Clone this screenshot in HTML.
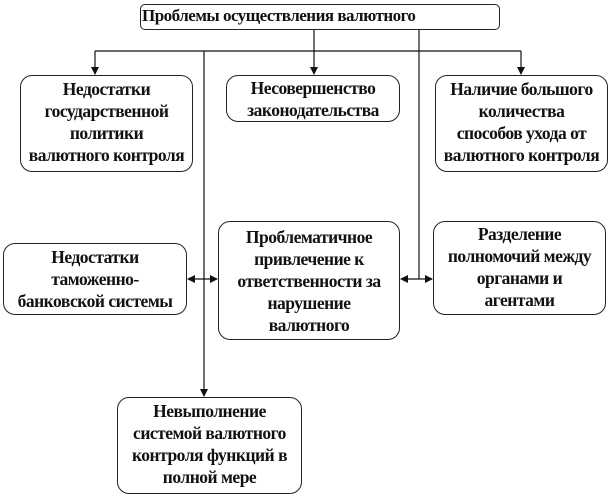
<!DOCTYPE html>
<html><head><meta charset="utf-8"><style>
body{margin:0;width:611px;height:498px;background:#fff;position:relative;overflow:hidden;font-family:"Liberation Serif",serif;}
.b{position:absolute;border:1.3px solid #222;border-radius:12px;box-sizing:border-box;text-align:center;font-weight:bold;font-size:17.5px;line-height:22px;color:#111;letter-spacing:-0.5px;white-space:nowrap;}
svg{position:absolute;left:0;top:0}
</style></head><body>
<svg width="611" height="498">
<defs><marker id="a" markerWidth="8" markerHeight="8" refX="7" refY="4" orient="auto" markerUnits="userSpaceOnUse"><path d="M0,0L8,4L0,8z" fill="#111"/></marker>
<marker id="s" markerWidth="8" markerHeight="8" refX="1" refY="4" orient="auto" markerUnits="userSpaceOnUse"><path d="M8,0L0,4L8,8z" fill="#111"/></marker></defs>
<g stroke="#111" stroke-width="1.2" fill="none">
<line x1="95" y1="51" x2="521" y2="51"/>
<line x1="314" y1="30" x2="314" y2="74" marker-end="url(#a)"/>
<line x1="95" y1="51" x2="95" y2="74" marker-end="url(#a)"/>
<line x1="521" y1="51" x2="521" y2="74" marker-end="url(#a)"/>
<line x1="204" y1="51" x2="204" y2="396" marker-end="url(#a)"/>
<line x1="419" y1="30" x2="419" y2="279"/>
<line x1="188" y1="279" x2="217" y2="279" marker-start="url(#s)" marker-end="url(#a)"/>
<line x1="401" y1="279" x2="432" y2="279" marker-start="url(#s)" marker-end="url(#a)"/>
</g></svg>
<div class="b" style="left:140px;top:4px;width:360px;height:26px;border-radius:5px;text-align:left;font-size:17px;line-height:22px;padding-left:1px">Проблемы осуществления валютного</div>
<div class="b" style="left:20px;top:75px;width:173px;height:97px;padding-top:2px">Недостатки<br>государственной<br>политики<br>валютного контроля</div>
<div class="b" style="left:226px;top:75px;width:174px;height:47px;padding-top:1px">Несовершенство<br>законодательства</div>
<div class="b" style="left:435px;top:75px;width:173px;height:97px;padding-top:2px">Наличие большого<br>количества<br>способов ухода от<br>валютного контроля</div>
<div class="b" style="left:3px;top:243px;width:184px;height:72px;padding-top:2px">Недостатки<br>таможенно-<br>банковской системы</div>
<div class="b" style="left:218px;top:221px;width:182px;height:119px;padding-top:4px">Проблематичное<br>привлечение к<br>ответственности за<br>нарушение<br>валютного</div>
<div class="b" style="left:433px;top:221px;width:173px;height:94px;padding-top:1px">Разделение<br>полномочий между<br>органами и<br>агентами</div>
<div class="b" style="left:117px;top:397px;width:185px;height:97px;padding-top:2px">Невыполнение<br>системой валютного<br>контроля функций в<br>полной мере</div>
</body></html>
